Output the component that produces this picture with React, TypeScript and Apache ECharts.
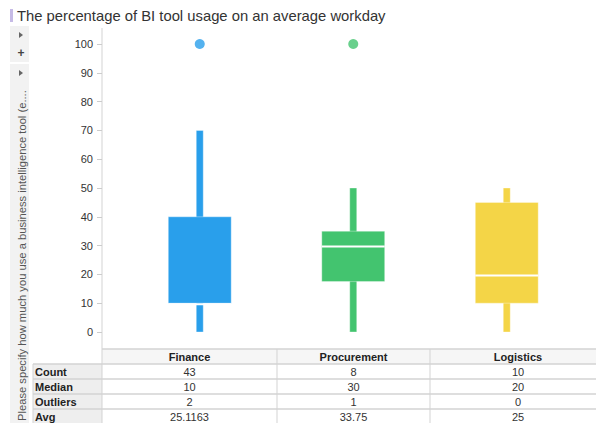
import React, { useEffect, useRef } from "react";
import * as echarts from "echarts";

const categories = ["Finance", "Procurement", "Logistics"];
// [min, q1, median, q3, max]
const boxValues = [
  [0, 10, 10, 40, 70],
  [0, 17.5, 30, 35, 50],
  [0, 10, 20, 45, 50],
];
const outlierPoints = [
  ["Finance", 100],
  ["Procurement", 100],
];
const colors = ["#299feb", "#43c46f", "#f4d547"];
const yTicks = { min: 0, max: 100, interval: 10 };
const rowLabels = ["Count", "Median", "Outliers", "Avg"];
const counts = ["43", "8", "10"];
const medians = ["10", "30", "20"];
const outlierCounts = ["2", "1", "0"];
const averages = ["25.1163", "33.75", "25"];
const title = "The percentage of BI tool usage on an average workday";
const sideLabel = "Please specify how much you use a business intelligence tool (e....";

const FONT = "Arial, 'Liberation Sans', sans-serif";

export default function App() {
  const ref = useRef<HTMLDivElement>(null);
  useEffect(() => {
    if (!ref.current) return;
    const chart = echarts.init(ref.current, null, { renderer: "svg" });

    const tableRows = [counts, medians, outlierCounts, averages];
    const colEdges = [102, 277, 430, 606];
    const rowTop = 349;
    const rowH = 15;
    const lineColor = "#d3d3d3";
    const g: any[] = [];

    // title
    g.push({ type: "rect", shape: { x: 10, y: 9, width: 3, height: 13 }, style: { fill: "#c6bbe6" } });
    g.push({ type: "text", x: 17, y: 16, style: { text: title, font: `14.8px ${FONT}`, fill: "#333", textVerticalAlign: "middle" } });

    // left strip
    g.push({ type: "rect", shape: { x: 10, y: 26, width: 19, height: 36 }, style: { fill: "#f2f2f2" } });
    g.push({ type: "rect", shape: { x: 10, y: 64, width: 19, height: 360 }, style: { fill: "#f2f2f2" } });
    g.push({ type: "polygon", shape: { points: [[19, 32], [19, 38], [23, 35]] }, style: { fill: "#666" } });
    g.push({ type: "text", x: 21, y: 53, style: { text: "+", font: `bold 12px ${FONT}`, fill: "#444", textAlign: "center", textVerticalAlign: "middle" } });
    g.push({ type: "polygon", shape: { points: [[19, 70], [19, 76], [23, 73]] }, style: { fill: "#666" } });
    g.push({ type: "text", x: 22, y: 421, rotation: Math.PI / 2, style: { text: sideLabel, font: `11.2px ${FONT}`, fill: "#555", textAlign: "left", textVerticalAlign: "middle" } });

    // axis line
    g.push({ type: "line", shape: { x1: 102, y1: 28, x2: 102, y2: 349 }, style: { stroke: lineColor, lineWidth: 1 } });

    // table header
    g.push({ type: "rect", shape: { x: 102, y: rowTop, width: 494, height: rowH }, style: { fill: "#f6f6f6" } });
    categories.forEach((c, i) => {
      g.push({ type: "text", x: (colEdges[i] + colEdges[i + 1]) / 2, y: rowTop + rowH / 2 + 0.5, style: { text: c, font: `bold 11px ${FONT}`, fill: "#222", textAlign: "center", textVerticalAlign: "middle" } });
    });
    rowLabels.forEach((lab, r) => {
      const y = rowTop + rowH * (r + 1);
      g.push({ type: "rect", shape: { x: 33, y, width: 69, height: rowH }, style: { fill: "#eeeeee" } });
      g.push({ type: "text", x: 35, y: y + rowH / 2 + 0.5, style: { text: lab, font: `bold 11px ${FONT}`, fill: "#222", textAlign: "left", textVerticalAlign: "middle" } });
      tableRows[r].forEach((v, i) => {
        g.push({ type: "text", x: (colEdges[i] + colEdges[i + 1]) / 2, y: y + rowH / 2 + 0.5, style: { text: v, font: `11px ${FONT}`, fill: "#333", textAlign: "center", textVerticalAlign: "middle" } });
      });
    });
    // lines
    g.push({ type: "line", shape: { x1: 102, y1: rowTop, x2: 596, y2: rowTop }, style: { stroke: lineColor, lineWidth: 1.5 } });
    for (let r = 1; r <= 4; r++) {
      const y = rowTop + rowH * r;
      g.push({ type: "line", shape: { x1: 33, y1: y, x2: 596, y2: y }, style: { stroke: lineColor, lineWidth: 1.5 } });
    }
    [33, 102, 277, 430].forEach((x, k) => {
      g.push({ type: "line", shape: { x1: x, y1: k === 0 ? rowTop + rowH : rowTop, x2: x, y2: 423 }, style: { stroke: lineColor, lineWidth: 1 } });
    });

    const option: any = {
      animation: false,
      grid: { left: 123, right: 12.5, top: 44, height: 288 },
      xAxis: {
        type: "category",
        data: categories,
        show: false,
        boundaryGap: true,
      },
      yAxis: {
        type: "value",
        min: yTicks.min,
        max: yTicks.max,
        interval: yTicks.interval,
        offset: 21,
        axisLine: { show: false },
        axisTick: { show: true, length: 5, lineStyle: { color: "#cccccc" } },
        splitLine: { show: false },
        axisLabel: { margin: 9, color: "#333", fontSize: 11, fontFamily: FONT },
      },
      series: [
        {
          type: "custom",
          data: boxValues.map((b, i) => [i, ...b]),
          renderItem: (params: any, api: any) => {
            const idx = api.value(0);
            const mn = api.coord([idx, api.value(1)]);
            const q1 = api.coord([idx, api.value(2)]);
            const md = api.coord([idx, api.value(3)]);
            const q3 = api.coord([idx, api.value(4)]);
            const mx = api.coord([idx, api.value(5)]);
            const band = api.size([1, 0])[0];
            const bw = band * 0.41;
            const ww = 7;
            const cx = mn[0];
            const col = colors[params.dataIndex];
            return {
              type: "group",
              children: [
                { type: "rect", shape: { x: cx - ww / 2, y: mx[1], width: ww, height: mn[1] - mx[1] }, style: { fill: col, stroke: "rgba(255,255,255,0.35)", lineWidth: 1 } },
                { type: "rect", shape: { x: cx - bw / 2, y: q3[1], width: bw, height: q1[1] - q3[1] }, style: { fill: col, stroke: "rgba(255,255,255,0.35)", lineWidth: 1 } },
                { type: "line", shape: { x1: cx - bw / 2, y1: md[1] + 1, x2: cx + bw / 2, y2: md[1] + 1 }, style: { stroke: "#ffffff", lineWidth: 2 } },
              ],
            };
          },
        },
        {
          type: "scatter",
          symbol: "circle",
          symbolSize: 10,
          data: outlierPoints.map((p) => ({
            value: p,
            itemStyle: { color: colors[categories.indexOf(p[0] as string)] },
          })),
        },
      ],
      graphic: g,
    };
    chart.setOption(option);
    return () => chart.dispose();
  }, []);
  return (
    <div
      ref={ref}
      style={{ position: "absolute", left: 0, top: 0, width: 596, height: 423, background: "#fff" }}
    />
  );
}
